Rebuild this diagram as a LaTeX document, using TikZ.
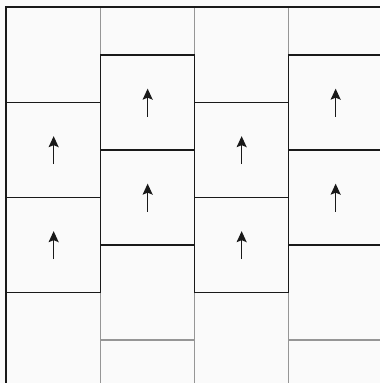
\documentclass[tikz,border=0pt]{standalone}
\usetikzlibrary{arrows.meta}
\definecolor{paper}{RGB}{250,250,250}
\definecolor{gridc}{RGB}{150,150,150}
\definecolor{inkc}{RGB}{25,25,25}

\begin{document}
\begin{tikzpicture}[x=1pt,y=1pt,
  cell/.style={draw=gridc,line width=1.3pt,minimum width=94pt,minimum height=95pt,inner sep=0pt,anchor=north west},
  hot/.style={cell,draw=inkc},
  up/.style={-{Stealth[length=11pt,width=10pt,inset=2pt]},inkc,line width=1.4pt}]
\useasboundingbox[fill=paper] (0,0) rectangle (380,383);
\begin{scope}
\clip (6,0) rectangle (380,376);
% columns 0 and 2 start at the top edge, 1 and 3 half a cell higher
\foreach \c/\off in {0/0,1/47.5,2/0,3/47.5} {
  \foreach \r in {0,...,4} {
    \node[cell] (c\c-\r) at (6+94*\c,376+\off-95*\r) {};
  }
}
\foreach \c in {0,...,3} {
  \foreach \r in {1,2} {
    \node[hot] (h\c-\r) at (c\c-\r.north west) {};
    \draw[up] ([yshift=-14pt]h\c-\r.center) -- ([yshift=14pt]h\c-\r.center);
  }
}
\end{scope}
\coordinate (frameR) at (380,376);
\coordinate (frameB) at (6,0);
\draw[inkc,line width=1.5pt] (frameR) -| (frameB);
\end{tikzpicture}
\end{document}
